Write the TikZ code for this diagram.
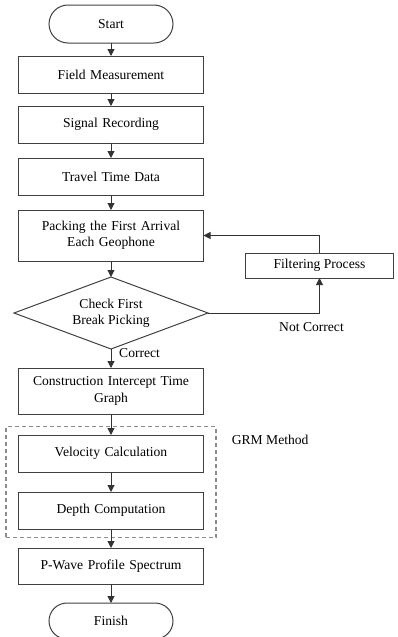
\documentclass[tikz,border=0pt]{standalone}
\usepackage{fontspec}
\setmainfont{Liberation Serif}
\usetikzlibrary{arrows.meta,positioning,fit,shapes.geometric,shapes.misc}

\begin{document}
\begin{tikzpicture}[
    x=1pt, y=1pt,
    font=\fontsize{13.6}{16.3}\selectfont,
    node distance=14pt,
    proc/.style={draw=black!75, line width=1pt, minimum width=185pt, minimum height=37pt, text width=170pt, align=center, inner sep=0pt, outer sep=0pt},
    side/.style={draw=black!75, line width=1pt, minimum width=148pt, minimum height=25pt, inner sep=0pt, outer sep=0pt},
    term/.style={rounded rectangle, draw=black!75, line width=1pt, minimum width=124pt, minimum height=38pt, inner sep=0pt, outer sep=0pt},
    decide/.style={diamond, aspect=2.7, draw=black!75, line width=1pt, minimum width=194pt, minimum height=72pt, inner sep=0pt, outer sep=0pt, align=center},
    group/.style={draw=black!45, line width=1.2pt, dash pattern=on 4pt off 3pt},
    lbl/.style={inner sep=0pt},
    arr/.style={-{Triangle[length=7pt,width=7pt]}, line width=1pt, draw=black!80},
  ]
    \useasboundingbox (0,0) rectangle (397,-637);

    \node[term] (start) at (111,-24) {Start};
    \node[proc, below=13pt of start] (field) {Field Measurement};
    \node[proc, below=13pt of field] (signal) {Signal Recording};
    \node[proc, below=15pt of signal] (travel) {Travel Time Data};
    \node[proc, below=15pt of travel, minimum height=51pt] (pack) {Packing the First Arrival\\Each Geophone};
    \node[decide, below=16pt of pack] (check) {Check First\\Break Picking};
    \node[proc, below=19pt of check, minimum height=46pt] (cons) {Construction Intercept Time\\Graph};
    \node[proc, below=21pt of cons] (vel) {Velocity Calculation};
    \node[proc, below=20pt of vel] (dep) {Depth Computation};
    \node[proc, below=19pt of dep, minimum height=36pt] (pwave) {P-Wave Profile Spectrum};
    \node[term, below=19pt of pwave, minimum height=36pt] (finish) {Finish};

    \node[side, below right=17.5pt and 42pt of pack.east] (filter) {Filtering Process};

    \node[group, fit=(vel)(dep), inner xsep=12.5pt, inner ysep=8.5pt] (grm) {};
    \node[lbl, below right=9pt and 15pt of grm.north east] (grmlbl) {GRM Method};

    \draw[arr] (start) -- (field);
    \draw[arr] (field) -- (signal);
    \draw[arr] (signal) -- (travel);
    \draw[arr] (travel) -- (pack);
    \draw[arr] (pack) -- (check);
    \draw[arr] (check) -- (cons);
    \draw[arr] (cons) -- (vel);
    \draw[arr] (vel) -- (dep);
    \draw[arr] (dep) -- (pwave);
    \draw[arr] (pwave) -- (finish);

    \node[lbl, right=8pt of check.south, yshift=-4pt] (ok) {Correct};

    % wrong picks go back through the filter
    \coordinate (bend) at (filter.south |- check.east);
    \draw[arr] (check.east) -- (bend) -- (filter.south);
    \draw[arr] (filter.north) |- (pack.east);
    \node[lbl, below=9pt of bend, xshift=-8pt] (notok) {Not Correct};
\end{tikzpicture}
\end{document}
